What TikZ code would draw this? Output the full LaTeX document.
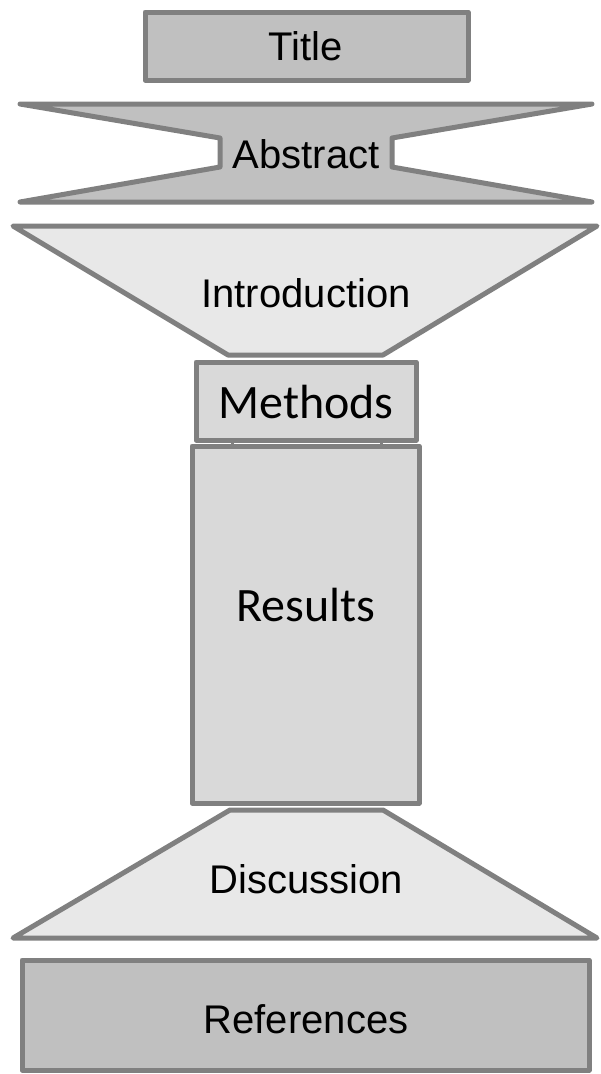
\documentclass[tikz,border=0pt]{standalone}
\usepackage{fontspec}
\setmainfont{Liberation Sans}
\newfontfamily\calibrifont{Carlito}
\definecolor{partline}{HTML}{808080}
\definecolor{darkfill}{HTML}{C0C0C0}
\definecolor{midfill}{HTML}{D9D9D9}
\definecolor{lightfill}{HTML}{E8E8E8}
\tikzset{
  part/.style={draw=partline, line width=5pt, line join=round},
  armtext/.style={inner sep=0.75pt, font=\fontsize{40}{48}\selectfont},
  calitext/.style={inner sep=0.75pt, font=\calibrifont\fontsize{48}{58}\selectfont}
}
\begin{document}
\begin{tikzpicture}[x=1pt,y=1pt,yscale=-1,xscale=1]
\useasboundingbox (0,0) rectangle (600,1074);
\fill[white] (0,0) rectangle (600,1074);

%Shape: Rectangle [Title]
\draw[part, fill=darkfill] (145,12) rectangle (468,80) ;
%Shape: Bow tie [Abstract]
\draw[part, fill=darkfill] (20,104) -- (592,104) -- (392,138) -- (392,167) -- (592,202) -- (20,202) -- (220,167) -- (220,138) -- cycle ;
%Shape: Funnel [Introduction]
\draw[part, fill=lightfill] (13,226) -- (597,226) -- (383,355) -- (228,355) -- cycle ;
%Shape: Rectangle [Methods]
\draw[part, fill=midfill] (196,362) rectangle (416,440) ;
%Straight Lines
\draw[part, line width=3pt] (232,440) -- (232,446) (381,440) -- (381,446) ;
%Shape: Rectangle [Results]
\draw[part, fill=midfill] (192,446) rectangle (419,803) ;
%Shape: Funnel [Discussion]
\draw[part, fill=lightfill] (230,810) -- (383,810) -- (597,938) -- (13,938) -- cycle ;
%Shape: Rectangle [References]
\draw[part, fill=darkfill] (22,960) rectangle (589,1070) ;

% Text Node
\node[armtext] (title) at (306,46) {Title};
% Text Node
\node[armtext] (abstract) at (306,154) {Abstract};
% Text Node
\node[armtext] (intro) at (306,293) {Introduction};
% Text Node
\node[calitext] (methods) at (306,402) {Methods};
% Text Node
\node[calitext] (results) at (306,605) {Results};
% Text Node
\node[armtext] (discussion) at (306,879) {Discussion};
% Text Node
\node[armtext] (references) at (306,1019) {References};

\end{tikzpicture}
\end{document}
